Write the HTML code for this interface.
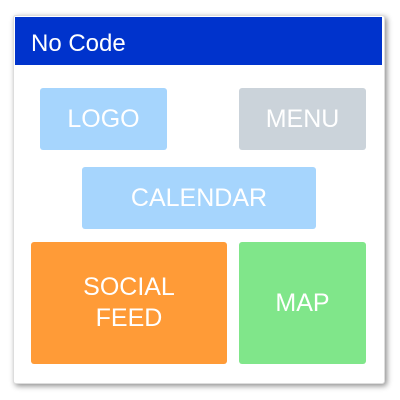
<!DOCTYPE html>
<html><head><style>
body{margin:0;width:400px;height:400px;background:#fff;position:relative;font-family:"Liberation Sans","DejaVu Sans",sans-serif;overflow:hidden}
.frame{position:absolute;left:13px;top:15px;width:370px;height:367px;background:#fff;border:1px solid #ddd;border-radius:3px;box-shadow:2px 2px 6px rgba(0,0,0,.45)}
.hdr{position:absolute;left:15px;top:17px;width:367px;height:48px;background:#0033cc;color:#fff;font-size:24px;line-height:54px;padding-left:16px;box-sizing:border-box}
.b{position:absolute;border-radius:3px;color:#fff;font-size:25px;display:flex;align-items:center;justify-content:center;text-align:center;line-height:31px}
</style></head><body>
<div class="frame"></div>
<div class="hdr">No Code</div>
<div class="b" style="left:40px;top:88px;width:127px;height:62px;background:#a6d5fd">LOGO</div>
<div class="b" style="left:239px;top:88px;width:127px;height:62px;background:#cbd3da">MENU</div>
<div class="b" style="left:82px;top:167px;width:234px;height:62px;background:#a6d5fd">CALENDAR</div>
<div class="b" style="left:31px;top:242px;width:196px;height:122px;background:#ff9b37">SOCIAL<br>FEED</div>
<div class="b" style="left:239px;top:242px;width:127px;height:122px;background:#80e68a">MAP</div>
</body></html>
